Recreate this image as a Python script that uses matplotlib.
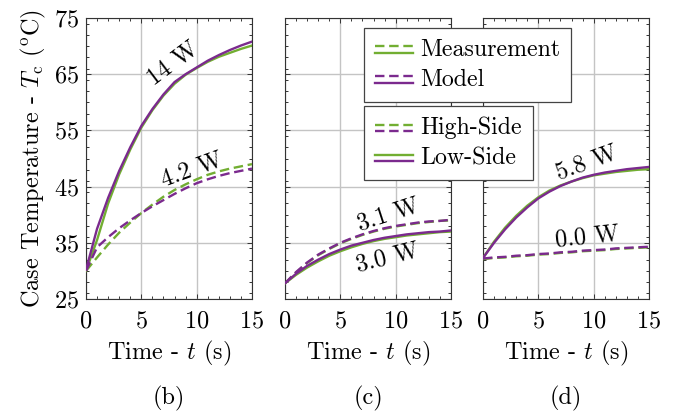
import matplotlib
matplotlib.use("Agg")
import matplotlib.pyplot as plt
from matplotlib.lines import Line2D
from matplotlib.legend_handler import HandlerBase
from matplotlib.ticker import MultipleLocator

plt.rcParams['font.family'] = ['cmr10', 'DejaVu Serif']
plt.rcParams['mathtext.fontset'] = 'cm'
plt.rcParams['axes.unicode_minus'] = False
plt.rcParams['axes.formatter.use_mathtext'] = True

# ---------------- data ----------------
t = [0, 1, 2, 3, 4, 5, 6, 7, 8, 9, 10, 11, 12, 13, 14, 15]

# panel (b)
b_low_meas = [30.0, 35.5, 42.0, 47.2, 51.6, 55.5, 58.6, 61.2, 63.3, 64.9, 66.1, 67.2, 68.1, 68.8, 69.5, 70.1]
b_low_model = [30.2, 37.5, 43.0, 47.8, 52.0, 55.8, 58.8, 61.4, 63.6, 65.0, 66.2, 67.4, 68.4, 69.3, 70.1, 70.8]
b_high_meas = [30.0, 32.4, 34.7, 36.8, 38.6, 40.3, 41.8, 43.2, 44.4, 45.4, 46.3, 47.1, 47.7, 48.2, 48.6, 49.0]
b_high_model = [30.0, 34.2, 36.0, 37.6, 39.0, 40.3, 41.5, 42.6, 43.7, 44.7, 45.6, 46.3, 46.9, 47.4, 47.8, 48.2]

# panel (c)
c_low_meas = [27.8, 29.3, 30.6, 31.7, 32.7, 33.5, 34.2, 34.8, 35.3, 35.7, 36.0, 36.3, 36.5, 36.7, 36.9, 37.0]
c_low_model = [27.8, 29.5, 30.9, 32.0, 33.0, 33.8, 34.5, 35.0, 35.5, 35.9, 36.2, 36.5, 36.7, 36.9, 37.0, 37.2]
c_high_meas = [27.8, 29.7, 31.4, 32.8, 33.9, 34.9, 35.7, 36.4, 37.0, 37.5, 37.9, 38.2, 38.5, 38.7, 38.9, 39.0]
c_high_model = [27.8, 29.8, 31.5, 32.9, 34.0, 35.0, 35.8, 36.5, 37.1, 37.6, 38.0, 38.3, 38.6, 38.8, 38.9, 39.1]

# panel (d)
d_low_meas = [32.3, 35.2, 37.7, 39.8, 41.6, 43.1, 44.3, 45.2, 45.9, 46.5, 47.0, 47.3, 47.6, 47.8, 48.0, 48.1]
d_low_model = [32.3, 35.0, 37.4, 39.5, 41.3, 42.9, 44.1, 45.1, 45.9, 46.6, 47.1, 47.5, 47.8, 48.1, 48.3, 48.5]
d_high_meas = [32.1, 32.3, 32.4, 32.6, 32.7, 32.9, 33.0, 33.2, 33.3, 33.5, 33.6, 33.7, 33.9, 34.0, 34.1, 34.2]
d_high_model = [32.2, 32.4, 32.5, 32.7, 32.8, 33.0, 33.1, 33.3, 33.4, 33.6, 33.7, 33.8, 34.0, 34.1, 34.2, 34.3]

xticks = [0, 5, 10, 15]
yticks = [25, 35, 45, 55, 65, 75]
captions = ['(b)', '(c)', '(d)']

# annotations: (text, t, T, rotation)
b_labels = [("14 W", 7.9, 67.0, 37), ("4.2 W", 9.6, 48.0, 20)]
c_labels = [("3.1 W", 9.3, 40.0, 18), ("3.0 W", 9.3, 32.3, 14)]
d_labels = [("5.8 W", 9.4, 49.2, 20), ("0.0 W", 9.4, 36.1, 6)]

GREEN = '#72ae32'
PURPLE = '#7b2a8e'
LW = 1.7
DASH = (4.0, 2.0)
FS = 17.5
LFS = 17.2

fig = plt.figure(figsize=(6.8, 4.12), dpi=100)
lefts = [86 / 680, 285 / 680, 483 / 680]
width = 166 / 680
bottom = 1 - 299 / 412
height = (299 - 18) / 412

panels = [
    (b_low_meas, b_low_model, b_high_meas, b_high_model, b_labels),
    (c_low_meas, c_low_model, c_high_meas, c_high_model, c_labels),
    (d_low_meas, d_low_model, d_high_meas, d_high_model, d_labels),
]

for i, (lm, lmod, hm, hmod, labels) in enumerate(panels):
    ax = fig.add_axes([lefts[i], bottom, width, height])
    ax.plot(t, hm, color=GREEN, lw=LW, dashes=DASH, zorder=3)
    ax.plot(t, hmod, color=PURPLE, lw=LW, dashes=DASH, zorder=4)
    ax.plot(t, lm, color=GREEN, lw=LW, zorder=3)
    ax.plot(t, lmod, color=PURPLE, lw=LW, zorder=4)
    ax.set_xlim(0, 15)
    ax.set_ylim(25, 75)
    ax.set_xticks(xticks)
    ax.set_yticks(yticks)
    ax.xaxis.set_minor_locator(MultipleLocator(1))
    ax.yaxis.set_minor_locator(MultipleLocator(2))
    ax.tick_params(which='both', direction='in', top=True, right=True,
                   labelsize=FS, color='#333333', width=0.7)
    ax.tick_params(which='major', length=3.5)
    ax.tick_params(which='minor', length=2)
    ax.tick_params(axis='x', pad=8)
    ax.tick_params(axis='y', pad=5)
    ax.grid(True, which='major', color='#c4c4c4', lw=1.0, zorder=0)
    ax.set_axisbelow(True)
    for s in ax.spines.values():
        s.set_color('#333333')
        s.set_linewidth(0.8)
    if i > 0:
        ax.set_yticklabels([])
    else:
        ax.set_ylabel(r"Case Temperature - $T_{\rm c}$ ($^{\rm o}$C)", fontsize=FS, labelpad=4)
    ax.set_xlabel(r"Time - $t$ (s)", fontsize=FS, labelpad=5)
    for txt, tx, ty, rot in labels:
        ax.text(tx, ty, txt, fontsize=FS, rotation=rot, ha='center', va='center',
                rotation_mode='anchor', zorder=5)
    fig.text(lefts[i] + width / 2, 1 - 398 / 412, captions[i], fontsize=FS,
             ha='center', va='center')


class DoubleLineHandler(HandlerBase):
    def __init__(self, top, bot):
        super().__init__()
        self.top = top
        self.bot = bot

    def create_artists(self, legend, orig_handle, xdescent, ydescent, width, height, fontsize, trans):
        arts = []
        c = height * 0.38 - ydescent
        for (col, dashed), yy in ((self.top, c + 2.2), (self.bot, c - 2.2)):
            ln = Line2D([-xdescent, width - xdescent], [yy, yy], color=col, lw=LW)
            if dashed:
                ln.set_dashes(DASH)
            ln.set_transform(trans)
            arts.append(ln)
        return arts


h1 = Line2D([], [])
h2 = Line2D([], [])
h3 = Line2D([], [])
h4 = Line2D([], [])

leg_kw = dict(loc='upper left', fontsize=LFS, frameon=True, fancybox=False,
              framealpha=1, edgecolor='#444444', borderaxespad=0,
              handlelength=1.6, handletextpad=0.3, borderpad=0.45, labelspacing=0.33)

leg1 = fig.legend([h1, h2], ['Measurement', 'Model'],
                  bbox_to_anchor=(364 / 680, 1 - 28 / 412),
                  handler_map={h1: DoubleLineHandler((GREEN, True), (GREEN, False)),
                               h2: DoubleLineHandler((PURPLE, True), (PURPLE, False))},
                  **leg_kw)
leg1.get_frame().set_linewidth(0.9)
leg2 = fig.legend([h3, h4], ['High-Side', 'Low-Side'],
                  bbox_to_anchor=(364 / 680, 1 - 106 / 412),
                  handler_map={h3: DoubleLineHandler((GREEN, True), (PURPLE, True)),
                               h4: DoubleLineHandler((GREEN, False), (PURPLE, False))},
                  **leg_kw)
leg2.get_frame().set_linewidth(0.9)

fig.savefig('out.png', dpi=100)
